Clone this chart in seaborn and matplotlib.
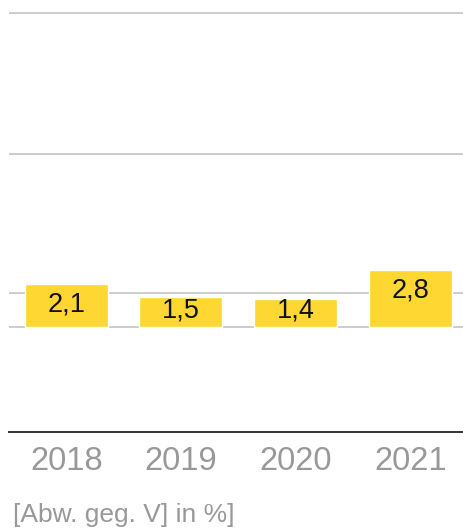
import matplotlib
matplotlib.use("Agg")
import matplotlib.pyplot as plt
import seaborn as sns
import pandas as pd

# data
years = ["2018", "2019", "2020", "2021"]
values = [2.1, 1.5, 1.4, 2.8]
labels = ["2,1", "1,5", "1,4", "2,8"]
grid_levels = [0.0, 1.68, 8.55, 15.55]
unit_note = "[Abw. geg. V] in %]"

df = pd.DataFrame({"year": years, "value": values})

sns.set_theme(style="white")
plt.rcParams["font.family"] = ["Liberation Sans", "DejaVu Sans"]

fig = plt.figure(figsize=(4.63, 5.31), dpi=100)
ax = fig.add_axes([9 / 463, 99 / 531, 454 / 463, 420 / 531])

for g in grid_levels:
    ax.axhline(g, color="#cccccc", lw=1.4, zorder=0)

sns.barplot(data=df, x="year", y="value", color="#FFD733", saturation=1,
            width=0.724, ax=ax, zorder=2)

for i, (v, lab) in enumerate(zip(values, labels)):
    ax.text(i, max(v - 1.0, 0.8), lab, ha="center", va="center",
            fontsize=19.5, color="#111111", zorder=3)

ax.set_xlim(-0.5, 3.46)
ax.set_ylim(-5.21, 15.6)
ax.set_xlabel("")
ax.set_ylabel("")
ax.set_yticks([])
for s in ["top", "right", "left"]:
    ax.spines[s].set_visible(False)
ax.spines["bottom"].set_color("#333333")
ax.spines["bottom"].set_linewidth(1.4)
ax.tick_params(axis="x", length=0, pad=10, labelsize=23.5, labelcolor="#999999")

fig.text(13 / 463, 1 - 515 / 531, unit_note, ha="left", va="center",
         fontsize=19, color="#999999")

fig.savefig("out.png", dpi=100)
